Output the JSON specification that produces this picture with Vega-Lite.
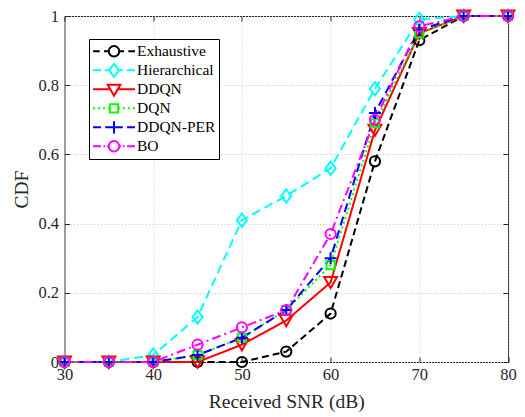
{
  "$schema": "https://vega.github.io/schema/vega-lite/v6.json",
  "width": 443.5,
  "height": 346,
  "autosize": {"type": "none"},
  "padding": {"left": 64.5, "top": 16, "right": 17, "bottom": 55},
  "background": "white",
  "config": {
    "font": "Liberation Serif",
    "view": {"stroke": "#262626", "strokeWidth": 1}
  },
  "data": {
    "values": [
      {"snr": 30, "cdf": 0, "series": "Exhaustive"},
      {"snr": 35, "cdf": 0, "series": "Exhaustive"},
      {"snr": 40, "cdf": 0, "series": "Exhaustive"},
      {"snr": 45, "cdf": 0, "series": "Exhaustive"},
      {"snr": 50, "cdf": 0, "series": "Exhaustive"},
      {"snr": 55, "cdf": 0.03, "series": "Exhaustive"},
      {"snr": 60, "cdf": 0.14, "series": "Exhaustive"},
      {"snr": 65, "cdf": 0.58, "series": "Exhaustive"},
      {"snr": 70, "cdf": 0.93, "series": "Exhaustive"},
      {"snr": 75, "cdf": 1, "series": "Exhaustive"},
      {"snr": 80, "cdf": 1, "series": "Exhaustive"},
      {"snr": 30, "cdf": 0, "series": "Hierarchical"},
      {"snr": 35, "cdf": 0, "series": "Hierarchical"},
      {"snr": 40, "cdf": 0.02, "series": "Hierarchical"},
      {"snr": 45, "cdf": 0.13, "series": "Hierarchical"},
      {"snr": 50, "cdf": 0.41, "series": "Hierarchical"},
      {"snr": 55, "cdf": 0.48, "series": "Hierarchical"},
      {"snr": 60, "cdf": 0.56, "series": "Hierarchical"},
      {"snr": 65, "cdf": 0.79, "series": "Hierarchical"},
      {"snr": 70, "cdf": 0.99, "series": "Hierarchical"},
      {"snr": 75, "cdf": 1, "series": "Hierarchical"},
      {"snr": 80, "cdf": 1, "series": "Hierarchical"},
      {"snr": 30, "cdf": 0, "series": "DDQN"},
      {"snr": 35, "cdf": 0, "series": "DDQN"},
      {"snr": 40, "cdf": 0, "series": "DDQN"},
      {"snr": 45, "cdf": 0, "series": "DDQN"},
      {"snr": 50, "cdf": 0.05, "series": "DDQN"},
      {"snr": 55, "cdf": 0.12, "series": "DDQN"},
      {"snr": 60, "cdf": 0.23, "series": "DDQN"},
      {"snr": 65, "cdf": 0.67, "series": "DDQN"},
      {"snr": 70, "cdf": 0.95, "series": "DDQN"},
      {"snr": 75, "cdf": 1, "series": "DDQN"},
      {"snr": 80, "cdf": 1, "series": "DDQN"},
      {"snr": 30, "cdf": 0, "series": "DQN"},
      {"snr": 35, "cdf": 0, "series": "DQN"},
      {"snr": 40, "cdf": 0, "series": "DQN"},
      {"snr": 45, "cdf": 0.02, "series": "DQN"},
      {"snr": 50, "cdf": 0.07, "series": "DQN"},
      {"snr": 55, "cdf": 0.15, "series": "DQN"},
      {"snr": 60, "cdf": 0.28, "series": "DQN"},
      {"snr": 65, "cdf": 0.69, "series": "DQN"},
      {"snr": 70, "cdf": 0.95, "series": "DQN"},
      {"snr": 75, "cdf": 1, "series": "DQN"},
      {"snr": 80, "cdf": 1, "series": "DQN"},
      {"snr": 30, "cdf": 0, "series": "DDQN-PER"},
      {"snr": 35, "cdf": 0, "series": "DDQN-PER"},
      {"snr": 40, "cdf": 0, "series": "DDQN-PER"},
      {"snr": 45, "cdf": 0.02, "series": "DDQN-PER"},
      {"snr": 50, "cdf": 0.07, "series": "DDQN-PER"},
      {"snr": 55, "cdf": 0.15, "series": "DDQN-PER"},
      {"snr": 60, "cdf": 0.3, "series": "DDQN-PER"},
      {"snr": 65, "cdf": 0.72, "series": "DDQN-PER"},
      {"snr": 70, "cdf": 0.96, "series": "DDQN-PER"},
      {"snr": 75, "cdf": 1, "series": "DDQN-PER"},
      {"snr": 80, "cdf": 1, "series": "DDQN-PER"},
      {"snr": 30, "cdf": 0, "series": "BO"},
      {"snr": 35, "cdf": 0, "series": "BO"},
      {"snr": 40, "cdf": 0, "series": "BO"},
      {"snr": 45, "cdf": 0.05, "series": "BO"},
      {"snr": 50, "cdf": 0.1, "series": "BO"},
      {"snr": 55, "cdf": 0.15, "series": "BO"},
      {"snr": 60, "cdf": 0.37, "series": "BO"},
      {"snr": 65, "cdf": 0.7, "series": "BO"},
      {"snr": 70, "cdf": 0.97, "series": "BO"},
      {"snr": 75, "cdf": 1, "series": "BO"},
      {"snr": 80, "cdf": 1, "series": "BO"}
    ]
  },
  "resolve": {
    "scale": {"shape": "independent"},
    "axis": {"x": "independent", "y": "independent"}
  },
  "layer": [
    {
      "mark": {"type": "line", "strokeWidth": 2},
      "encoding": {
        "x": {
          "field": "snr", "type": "quantitative",
          "scale": {"domain": [30, 80], "nice": false},
          "axis": {
            "orient": "bottom", "values": [30, 40, 50, 60, 70, 80],
            "grid": true, "gridDash": [1, 2], "gridColor": "#cccccc", "gridWidth": 1,
            "domain": false, "tickSize": -5, "tickColor": "#262626", "tickWidth": 1,
            "labelFont": "Liberation Serif", "labelFontSize": 16.5, "labelColor": "#262626",
            "labelPadding": 9, "labelFlush": false,
            "title": "Received SNR (dB)", "titleFont": "Liberation Serif", "titleFontSize": 19.5,
            "titleFontWeight": "normal", "titleColor": "#262626", "titlePadding": 10
          }
        },
        "y": {
          "field": "cdf", "type": "quantitative",
          "scale": {"domain": [0, 1], "nice": false},
          "axis": {
            "orient": "left", "values": [0, 0.2, 0.4, 0.6, 0.8, 1], "format": "~g",
            "grid": true, "gridDash": [1, 2], "gridColor": "#cccccc", "gridWidth": 1,
            "domain": false, "tickSize": -5, "tickColor": "#262626", "tickWidth": 1,
            "labelFont": "Liberation Serif", "labelFontSize": 16.5, "labelColor": "#262626",
            "labelPadding": 11,
            "title": "CDF", "titleFont": "Liberation Serif", "titleFontSize": 19.5,
            "titleFontWeight": "normal", "titleColor": "#262626", "titlePadding": 6
          }
        },
        "color": {
          "field": "series", "type": "nominal",
          "scale": {
            "domain": ["Exhaustive", "Hierarchical", "DDQN", "DQN", "DDQN-PER", "BO"],
            "range": ["#000000", "#00FFFF", "#FF0000", "#00FF00", "#0000FF", "#FF00FF"]
          },
          "legend": null
        },
        "strokeDash": {
          "field": "series", "type": "nominal",
          "scale": {
            "domain": ["Exhaustive", "Hierarchical", "DDQN", "DQN", "DDQN-PER", "BO"],
            "range": [[7, 4], [9, 5], [1, 0], [2, 3], [9, 5], [9, 4, 2, 4]]
          },
          "legend": null
        }
      }
    },
    {
      "mark": {"type": "point", "filled": false, "strokeWidth": 2, "opacity": 1, "size": 144},
      "encoding": {
        "x": {
          "field": "snr", "type": "quantitative",
          "scale": {"domain": [30, 80], "nice": false},
          "axis": {
            "orient": "top", "values": [30, 40, 50, 60, 70, 80], "labels": false, "title": null,
            "grid": false, "domain": false, "tickSize": -5, "tickColor": "#262626", "tickWidth": 1
          }
        },
        "y": {
          "field": "cdf", "type": "quantitative",
          "scale": {"domain": [0, 1], "nice": false},
          "axis": {
            "orient": "right", "values": [0, 0.2, 0.4, 0.6, 0.8, 1], "labels": false, "title": null,
            "grid": false, "domain": false, "tickSize": -5, "tickColor": "#262626", "tickWidth": 1
          }
        },
        "color": {
          "field": "series", "type": "nominal",
          "scale": {
            "domain": ["Exhaustive", "Hierarchical", "DDQN", "DQN", "DDQN-PER", "BO"],
            "range": ["#000000", "#00FFFF", "#FF0000", "#00FF00", "#0000FF", "#FF00FF"]
          },
          "legend": null
        },
        "shape": {
          "field": "series", "type": "nominal",
          "scale": {
            "domain": ["Exhaustive", "Hierarchical", "DDQN", "DQN", "DDQN-PER", "BO"],
            "range": [
              "M-0.85,0A0.85,0.85 0 1,1 0.85,0A0.85,0.85 0 1,1 -0.85,0Z",
              "M0,-1.1L0.85,0L0,1.1L-0.85,0Z",
              "M-1.08,-0.9L1.08,-0.9L0,0.95Z",
              "M-0.68,-0.68L0.68,-0.68L0.68,0.68L-0.68,0.68Z",
              "M-1,0L1,0M0,-1L0,1",
              "M-0.85,0A0.85,0.85 0 1,1 0.85,0A0.85,0.85 0 1,1 -0.85,0Z"
            ]
          },
          "legend": null
        }
      }
    },
    {
      "transform": [{"filter": "false"}],
      "mark": {"type": "point", "filled": false, "strokeWidth": 2, "opacity": 1},
      "encoding": {
        "x": {"field": "snr", "type": "quantitative", "scale": {"domain": [30, 80], "nice": false}, "axis": null},
        "y": {"field": "cdf", "type": "quantitative", "scale": {"domain": [0, 1], "nice": false}, "axis": null},
        "shape": {
          "field": "series", "type": "nominal",
          "scale": {
            "domain": ["Exhaustive", "Hierarchical", "DDQN", "DQN", "DDQN-PER", "BO"],
            "range": [
              "M-1,0L-0.68,0M-0.48,0L-0.26,0M0.26,0L0.48,0M0.68,0L1,0M-0.25,0A0.25,0.25 0 1,1 0.25,0A0.25,0.25 0 1,1 -0.25,0Z",
              "M-1,0L-0.62,0M-0.42,0L-0.26,0M0.26,0L0.42,0M0.62,0L1,0M0,-0.31L0.24,0L0,0.31L-0.24,0Z",
              "M-1,0L-0.18,0M0.18,0L1,0M-0.3,-0.22L0.3,-0.22L0,0.3Z",
              "M-1,0L-0.9,0M-0.76,0L-0.66,0M-0.52,0L-0.42,0M-0.28,0L-0.2,0M0.2,0L0.28,0M0.42,0L0.52,0M0.66,0L0.76,0M0.9,0L1,0M-0.2,-0.2L0.2,-0.2L0.2,0.2L-0.2,0.2Z",
              "M-1,0L-0.62,0M-0.42,0L-0.1,0M0.1,0L0.42,0M0.62,0L1,0M-0.29,0L0.29,0M0,-0.29L0,0.29",
              "M-1,0L-0.62,0M-0.5,0L-0.42,0M-0.34,0L-0.26,0M0.26,0L0.34,0M0.42,0L0.5,0M0.62,0L1,0M-0.25,0A0.25,0.25 0 1,1 0.25,0A0.25,0.25 0 1,1 -0.25,0Z"
            ]
          },
          "legend": {
            "orient": "none", "legendX": 24.5, "legendY": 23, "title": null,
            "symbolSize": 1764, "clipHeight": 18.7, "symbolStrokeWidth": 2, "symbolOffset": 0,
            "symbolStrokeColor": {"expr": "scale('color', datum.value)"},
            "symbolFillColor": "transparent",
            "labelFont": "Liberation Serif", "labelFontSize": 15.5, "labelColor": "#000000",
            "labelOffset": 1, "padding": 3, "rowPadding": 0,
            "strokeColor": "#000000", "fillColor": "#ffffff"
          }
        }
      }
    }
  ]
}
